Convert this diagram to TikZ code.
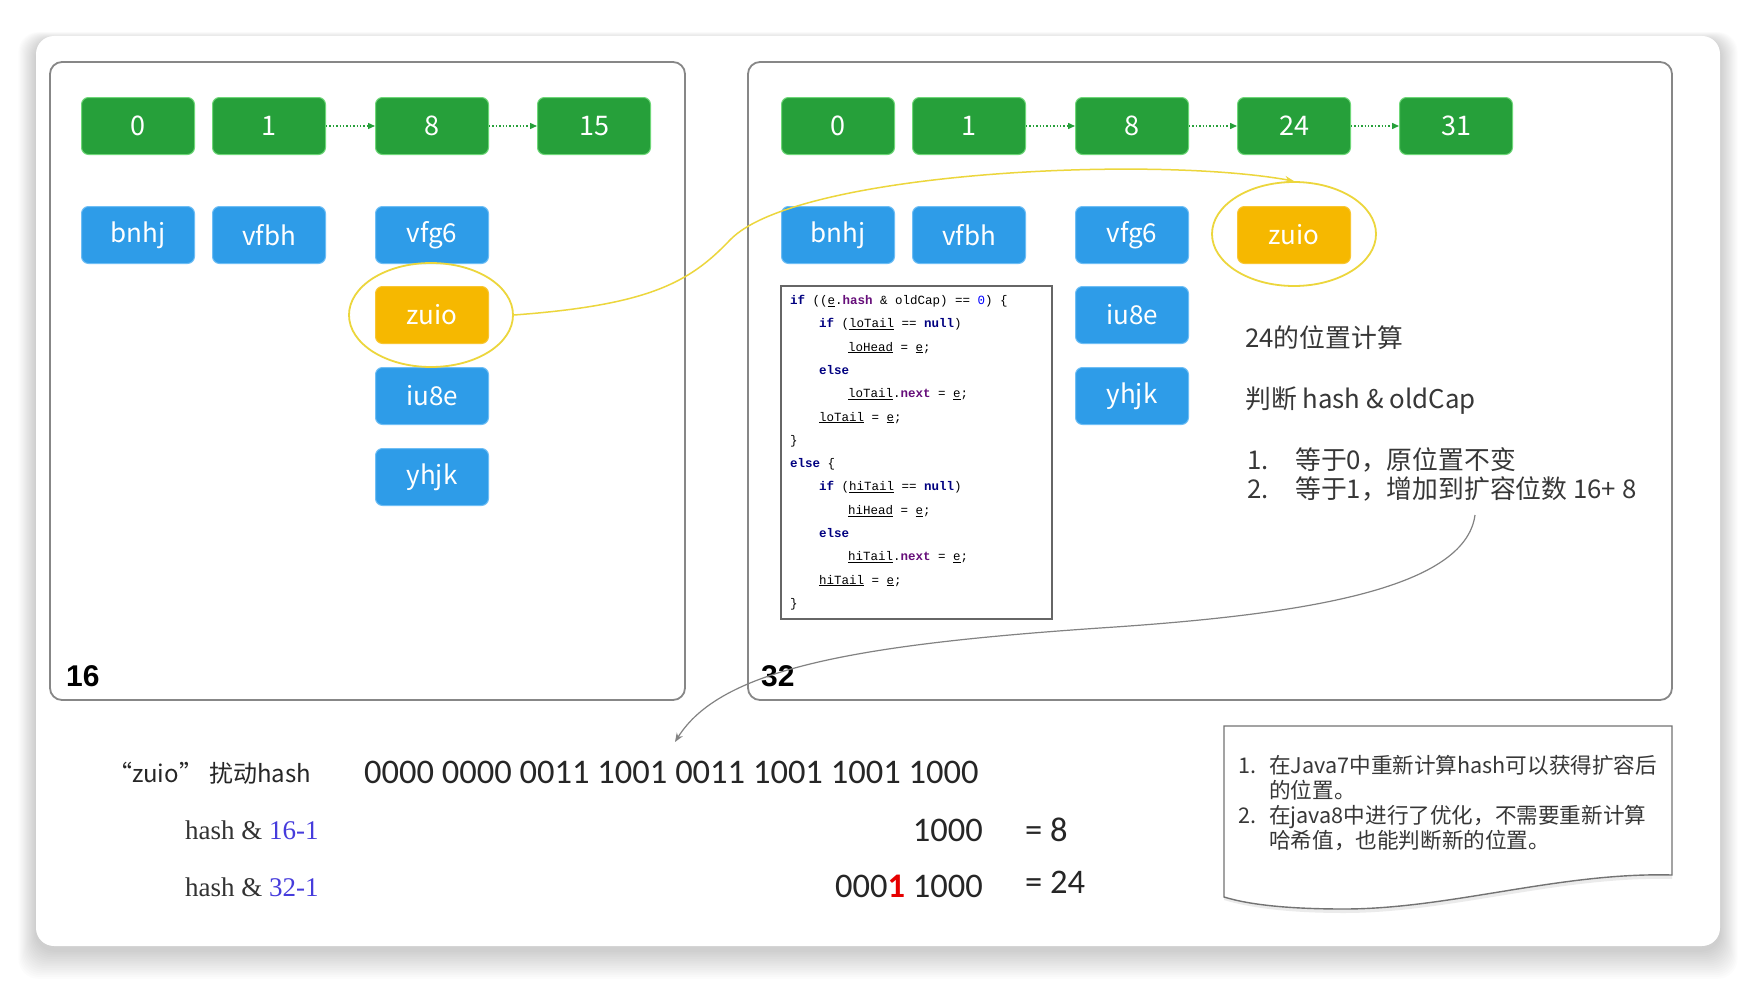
\documentclass[tikz,border=0pt]{standalone}
\usepackage{fontspec}
\setmainfont{Liberation Sans}
\newfontfamily\cjk{Noto Sans CJK SC}
\newfontfamily\codef{Liberation Mono}
\newfontfamily\serf{Liberation Serif}
\newfontfamily\calib{Carlito}
\usetikzlibrary{arrows.meta,shapes.geometric}
\definecolor{cGreen}{RGB}{38,160,58}
\definecolor{cGreenEdge}{RGB}{110,215,120}
\definecolor{cBlue}{RGB}{46,156,232}
\definecolor{cBlueEdge}{RGB}{110,190,245}
\definecolor{cYellow}{RGB}{246,184,0}
\definecolor{cRing}{RGB}{236,214,60}
\definecolor{cPanel}{RGB}{135,135,135}
\definecolor{cText}{RGB}{55,55,55}
\definecolor{cKw}{RGB}{0,0,128}
\definecolor{cFld}{RGB}{102,14,122}
\definecolor{cNum}{RGB}{0,0,255}
\definecolor{cBlueTxt}{RGB}{70,60,220}
\definecolor{cRed}{RGB}{230,0,0}
\definecolor{cArrow}{RGB}{130,130,130}
\newcommand{\ckw}[1]{\textcolor{cKw}{\bfseries #1}}
\newcommand{\cfd}[1]{\textcolor{cFld}{\bfseries #1}}
\newcommand{\cuv}[1]{\underline{#1}}
\begin{document}
\begin{tikzpicture}[x=1pt,y=-1pt,
  every node/.style={inner sep=0pt},
  cell/.style={rounded corners=7pt, line width=1pt, minimum width=113pt, minimum height=57pt, text=white, font=\cjk\fontsize{26}{26}\selectfont},
  greenbox/.style={cell, fill=cGreen, draw=cGreenEdge, font=\cjk\fontsize{27}{27}\selectfont},
  bluebox/.style={cell, fill=cBlue, draw=cBlueEdge},
  yellowbox/.style={cell, fill=cYellow, draw=cYellow!80!white},
  ring/.style={draw=cRing, line width=1.8pt, ellipse, minimum width=164pt, minimum height=104pt},
  panel/.style={draw=cPanel, line width=1.8pt, rounded corners=12pt},
  link/.style={draw=cGreen, line width=1.4pt, dotted, -{Triangle[length=7pt,width=6pt]}},
  codeline/.style={anchor=base west, font=\codef\fontsize{12.5}{12.5}\selectfont},
  rtext/.style={anchor=base west, text=cText, font=\cjk\fontsize{25.8}{25.8}\selectfont},
  ntext/.style={anchor=base west, text=cText, font=\cjk\fontsize{21.6}{21.6}\selectfont},
  bintext/.style={anchor=base west, text=black!85, font=\calib\fontsize{34.5}{34.5}\selectfont},
  sertext/.style={anchor=base west, text=black!80, font=\serf\fontsize{27}{27}\selectfont},
  capnum/.style={anchor=base west, text=black, font=\bfseries\fontsize{30}{30}\selectfont}
]
\useasboundingbox (0,0) rectangle (1756,982);
\fill[white] (0,0) rectangle (1756,982);
% card shadow
\foreach \i in {1,...,16} {
  \fill[black, opacity=0.011, rounded corners=20pt] ({36-1.1*\i},{40-0.5*\i}) rectangle ({1720+1.1*\i},{950+1.8*\i});
}
\fill[white, rounded corners=18pt] (36,36) rectangle (1720,946);

% panels
\draw[panel] (50,62) rectangle (685,700);
\draw[panel] (748,62) rectangle (1672,700);

% left panel
\node[greenbox] (lg0) at (138,126) {0};
\node[greenbox] (lg1) at (269,126) {1};
\node[greenbox] (lg8) at (432,126) {8};
\node[greenbox] (lg15) at (594,126) {15};
\draw[link] (lg1.east) -- (lg8.west);
\draw[link] (lg8.east) -- (lg15.west);
\node[bluebox] (lb1) at (138,235) {bnhj};
\node[bluebox] (lb2) at (269,235) {vfbh};
\node[bluebox] (lb3) at (432,235) {vfg6};
\node[yellowbox] (lzuio) at (432,315) {zuio};
\node[bluebox] (lb4) at (432,396) {iu8e};
\node[bluebox] (lb5) at (432,477) {yhjk};
\node[ring] (lring) at (431,315) {};
\node[capnum] (n16) at (66,686) {16};

% right panel
\node[greenbox] (rg0) at (838,126) {0};
\node[greenbox] (rg1) at (969,126) {1};
\node[greenbox] (rg8) at (1132,126) {8};
\node[greenbox] (rg24) at (1294,126) {24};
\node[greenbox] (rg31) at (1456,126) {31};
\draw[link] (rg1.east) -- (rg8.west);
\draw[link] (rg8.east) -- (rg24.west);
\draw[link] (rg24.east) -- (rg31.west);
\node[bluebox] (rb1) at (838,235) {bnhj};
\node[bluebox] (rb2) at (969,235) {vfbh};
\node[bluebox] (rb3) at (1132,235) {vfg6};
\node[bluebox] (rb4) at (1132,315) {iu8e};
\node[bluebox] (rb5) at (1132,396) {yhjk};
\node[yellowbox] (rzuio) at (1294,235) {zuio};
\node[ring] (rring) at (1294,234) {};
\node[capnum] (n32) at (761,686) {32};

% code box
\node[draw=black!60, line width=1.3pt, minimum width=271pt, minimum height=333pt] (code) at (916.5,452.5) {};
\node[codeline] (c1) at (790,304.5) {\ckw{if} ((\cuv{e}.\cfd{hash} \& oldCap) == \textcolor{cNum}{0}) \{};
\node[codeline] (c2) at (819,327.8) {\ckw{if} (\cuv{loTail} == \ckw{null})};
\node[codeline] (c3) at (848,351.1) {\cuv{loHead} = \cuv{e};};
\node[codeline] (c4) at (819,374.4) {\ckw{else}};
\node[codeline] (c5) at (848,397.7) {\cuv{loTail}.\cfd{next} = \cuv{e};};
\node[codeline] (c6) at (819,421.0) {\cuv{loTail} = \cuv{e};};
\node[codeline] (c7) at (790,444.3) {\}};
\node[codeline] (c8) at (790,467.6) {\ckw{else} \{};
\node[codeline] (c9) at (819,490.9) {\ckw{if} (\cuv{hiTail} == \ckw{null})};
\node[codeline] (c10) at (848,514.2) {\cuv{hiHead} = \cuv{e};};
\node[codeline] (c11) at (819,537.5) {\ckw{else}};
\node[codeline] (c12) at (848,560.8) {\cuv{hiTail}.\cfd{next} = \cuv{e};};
\node[codeline] (c13) at (819,584.1) {\cuv{hiTail} = \cuv{e};};
\node[codeline] (c14) at (790,607.4) {\}};

% right explanation
\node[rtext] (t1) at (1245,347) {24的位置计算};
\node[rtext] (t2) at (1245,408) {判断 hash \& oldCap};
\node[rtext] (t3a) at (1247,469) {1.};
\node[rtext] (t3) at (1295,469) {等于0，原位置不变};
\node[rtext] (t4a) at (1247,498) {2.};
\node[rtext] (t4) at (1295,498) {等于1，增加到扩容位数 16+ 8};

% bottom computation
\node[anchor=base west, text=black!85, font=\cjk\fontsize{24}{24}\selectfont] (zh) at (108,782) {“zuio”\hspace{6pt}扰动hash};
\node[bintext] (bin) at (364,783) {0000 0000 0011 1001 0011 1001 1001 1000};
\node[sertext] (h16) at (185,839) {hash \& \textcolor{cBlueTxt}{16-1}};
\node[sertext] (h32) at (185,896) {hash \& \textcolor{cBlueTxt}{32-1}};
\node[bintext, anchor=base east] (m16) at (983,841) {1000};
\node[bintext] (e8) at (1025,841) {= 8};
\node[bintext, anchor=base east] (m32) at (983,897) {000\textcolor{cRed}{\bfseries 1} 1000};
\node[bintext] (e24) at (1025,893) {= 24};

% note box
\fill[black, opacity=0.08] (1224,900) .. controls (1250,908) and (1290,913) .. (1344,913) .. controls (1450,913) and (1560,876) .. (1672,879) -- (1672,875) .. controls (1560,872) and (1450,909) .. (1344,909) .. controls (1290,909) and (1250,905) .. (1224,897) -- cycle;
\draw[draw=black!55, line width=1.4pt, fill=white] (1224,726) -- (1672,726) -- (1672,875) .. controls (1560,872) and (1450,909) .. (1344,909) .. controls (1290,909) and (1250,905) .. (1224,897) -- cycle;
\node[ntext] (k1a) at (1238,773) {1.};
\node[ntext] (k1) at (1269,773) {在Java7中重新计算hash可以获得扩容后};
\node[ntext] (k2) at (1269,798) {的位置。};
\node[ntext] (k3a) at (1238,823) {2.};
\node[ntext] (k3) at (1269,823) {在java8中进行了优化，不需要重新计算};
\node[ntext] (k4) at (1269,848) {哈希值，也能判断新的位置。};

% connectors
\draw[draw=cRing, line width=1.5pt, -{Stealth[length=9pt,width=7pt]}] (lring.east) .. controls (650,305) and (690,282) .. (730,240) .. controls (795,172) and (1150,155) .. (rring.north);
\coordinate (gs) at (1475,515);
\coordinate (ge) at (675,742);
\draw[draw=cArrow, line width=1.2pt, -{Stealth[length=9pt,width=7pt]}] (gs) .. controls (1465,590) and (1300,615) .. (1100,628) .. controls (850,645) and (720,670) .. (ge);
\end{tikzpicture}
\end{document}
